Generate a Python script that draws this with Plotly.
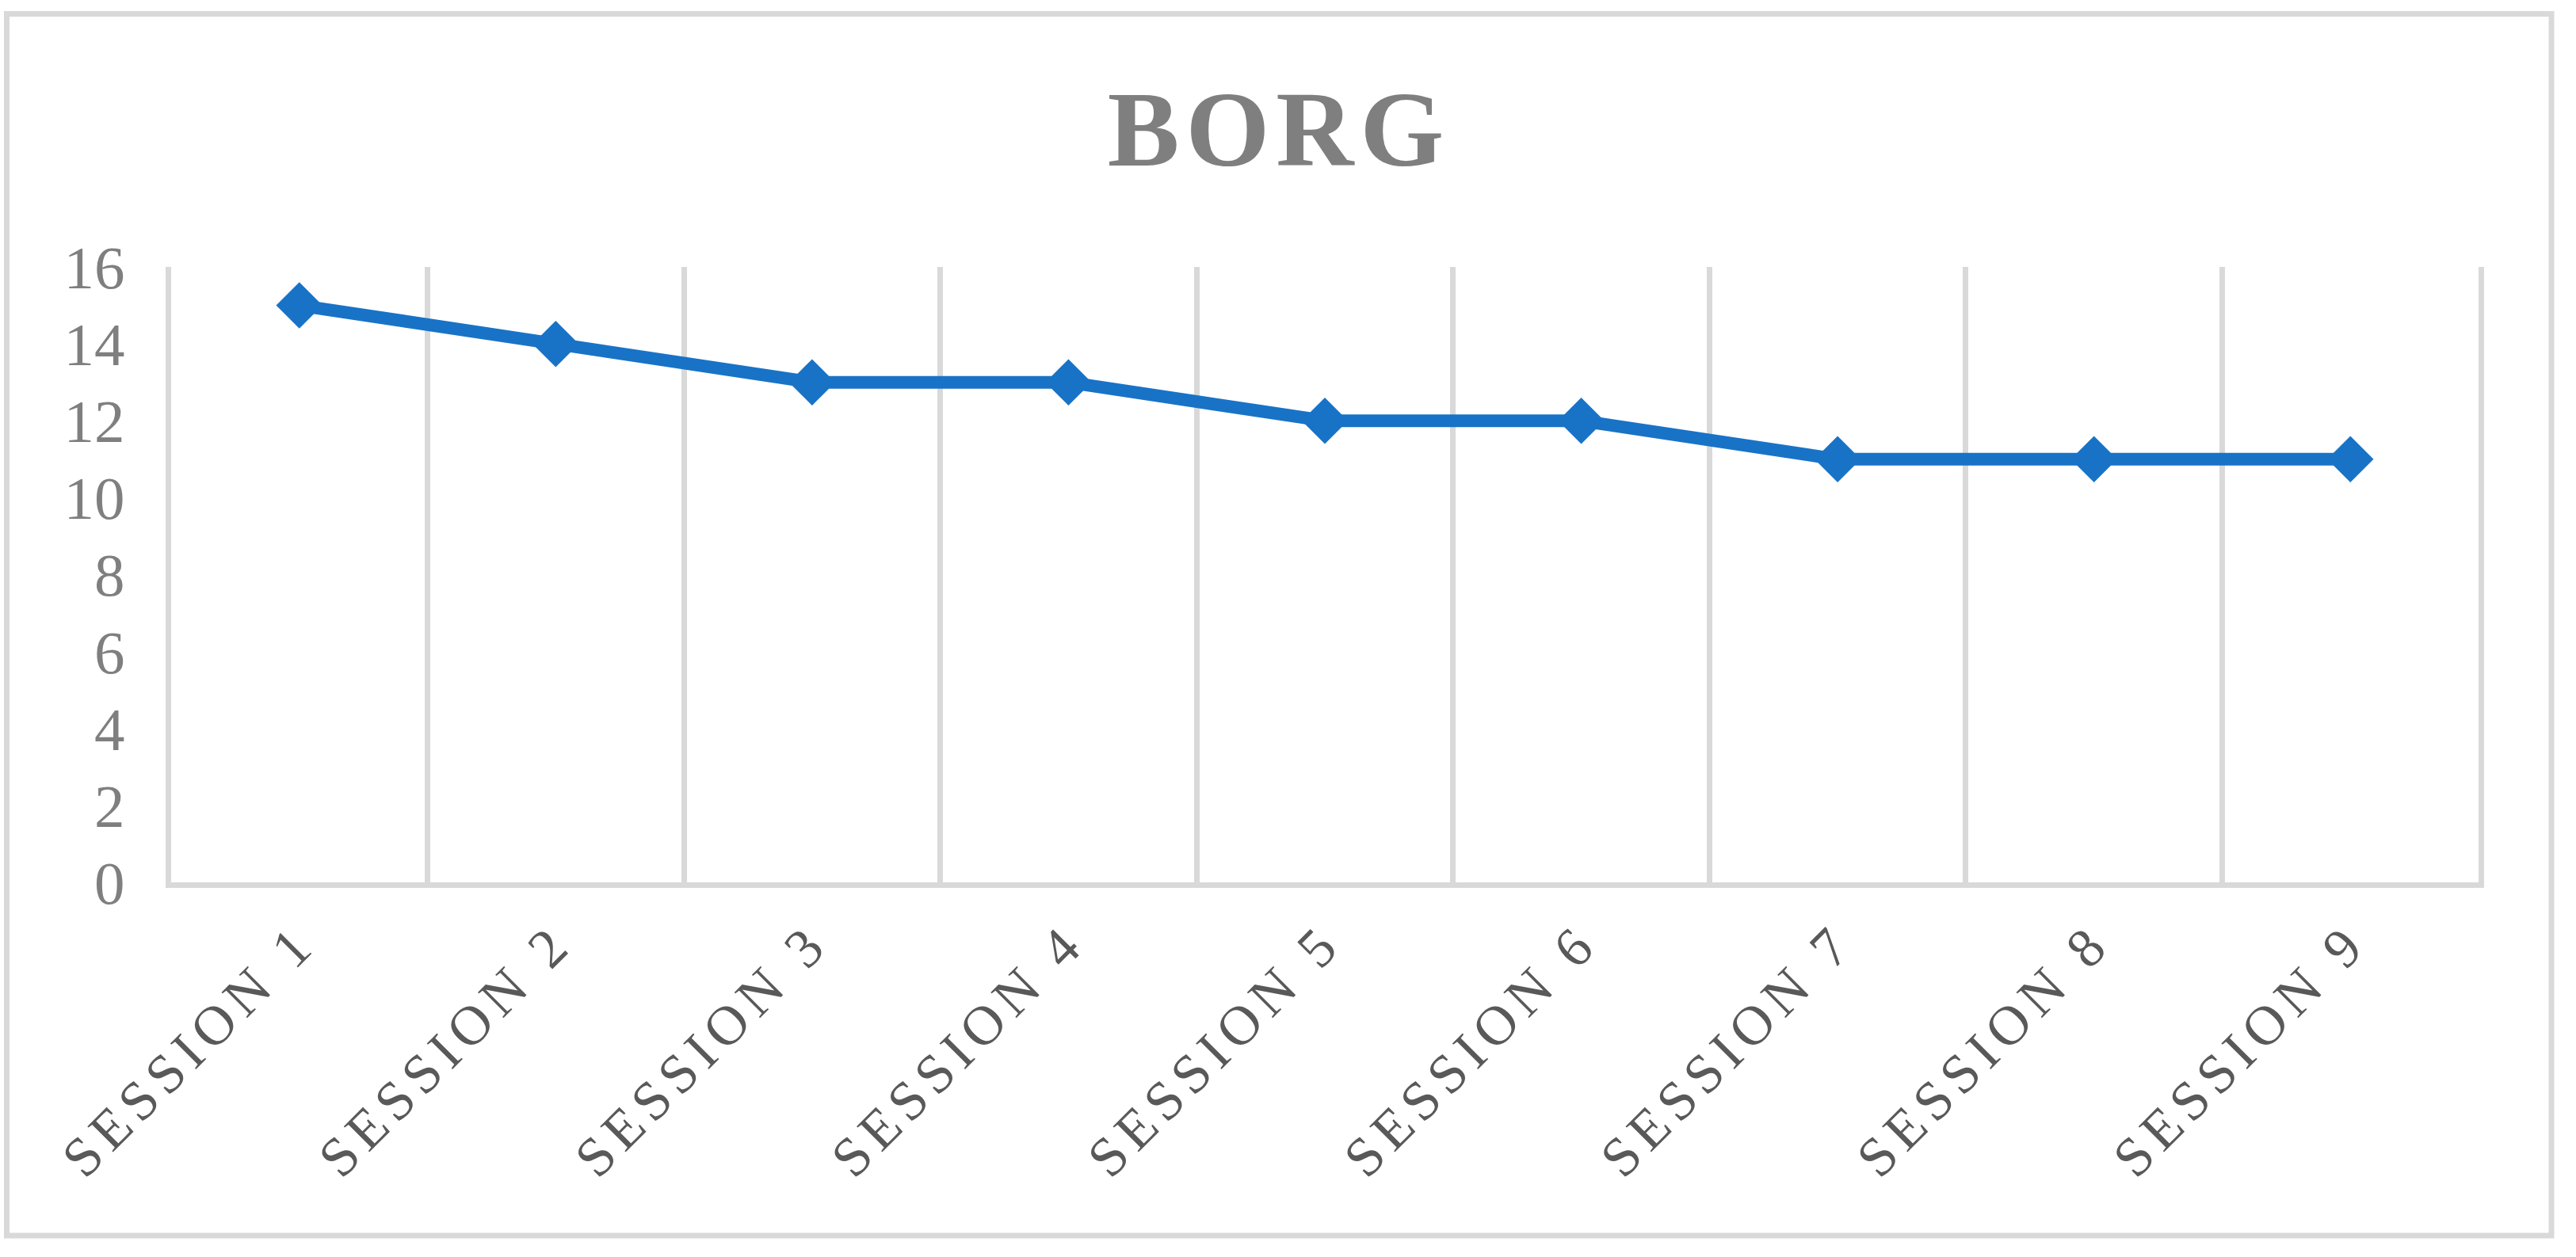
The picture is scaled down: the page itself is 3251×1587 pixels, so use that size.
import plotly.graph_objects as go

categories = ["SESSION 1", "SESSION 2", "SESSION 3", "SESSION 4", "SESSION 5",
              "SESSION 6", "SESSION 7", "SESSION 8", "SESSION 9"]
borg = [15, 14, 13, 13, 12, 12, 11, 11, 11]
y_ticks = [0, 2, 4, 6, 8, 10, 12, 14, 16]

W, H = 3251, 1587
L, R, T, B = 216, 3251 - 3128, 337, 1587 - 1114
pw, ph = W - L - R, H - T - B

def px_x(x):
    return (x - L) / pw

def px_y(y):
    return (H - B - y) / ph

FONT = "Liberation Serif, Times New Roman, serif"
BLUE = "#1873C7"
GRID = "#D9D9D9"

fig = go.Figure()
fig.add_trace(go.Scatter(
    x=categories, y=borg, mode="lines+markers",
    line=dict(color=BLUE, width=16),
    marker=dict(symbol="diamond", size=45, color=BLUE, line=dict(width=0)),
    showlegend=False, hoverinfo="x+y",
))

fig.update_layout(
    width=W, height=H,
    margin=dict(l=L, r=R, t=T, b=B, autoexpand=False),
    paper_bgcolor="white", plot_bgcolor="white",
    title=dict(text="BORG", x=1614 / W, xref="container", xanchor="center",
               y=1 - 161 / H, yref="container", yanchor="middle",
               font=dict(family=FONT, size=136, color="#7F7F7F", weight=700)),
    xaxis=dict(type="category", range=[-0.5, 8.5], tickson="boundaries",
               showgrid=True, gridcolor=GRID, gridwidth=7,
               showline=True, linecolor=GRID, linewidth=7,
               ticks="", tickangle=-45, ticklabelstandoff=0,
               tickfont=dict(family=FONT, size=70, color="#595959"),
               fixedrange=True),
    yaxis=dict(range=[0, 16], tickvals=y_ticks, ticktext=[str(v) for v in y_ticks],
               showgrid=False, zeroline=False,
               showline=True, mirror=True, linecolor=GRID, linewidth=7,
               ticks="", ticklabelstandoff=36,
               tickfont=dict(family=FONT, size=77, color="#7F7F7F"),
               fixedrange=True),
    shapes=[dict(type="rect", xref="paper", yref="paper",
                 x0=px_x(8.5), x1=px_x(3220), y0=px_y(1560), y1=px_y(17.5),
                 line=dict(color=GRID, width=7), fillcolor="rgba(0,0,0,0)",
                 layer="below")],
)

post = """
(function(){
  document.body.style.margin = '0';
  document.body.style.padding = '0';
  document.body.style.overflow = 'hidden';
  function ls(){
    document.querySelectorAll('.xtick text').forEach(function(t){t.style.letterSpacing='9px';});
    document.querySelectorAll('.gtitle').forEach(function(t){t.style.letterSpacing='8px';});
  }
  ls();
  var gd = document.getElementById('{plot_id}');
  if (gd && gd.on) gd.on('plotly_afterplot', ls);
})();
"""

fig.write_html("out.html", post_script=post, config={"displayModeBar": False})
